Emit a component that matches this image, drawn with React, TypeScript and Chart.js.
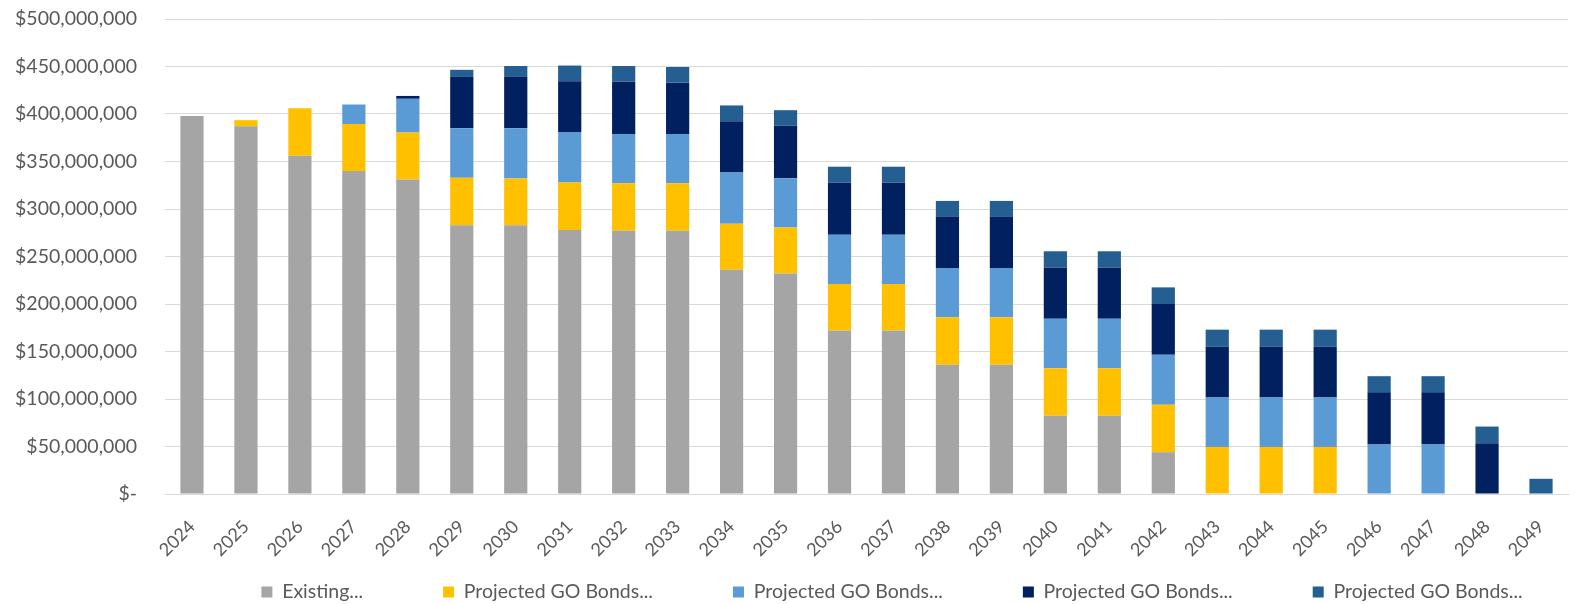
import { useEffect, useRef } from "react";
import { Chart, registerables } from "chart.js";

Chart.register(...registerables);

const years = [
  "2024", "2025", "2026", "2027", "2028", "2029", "2030", "2031", "2032", "2033",
  "2034", "2035", "2036", "2037", "2038", "2039", "2040", "2041", "2042", "2043",
  "2044", "2045", "2046", "2047", "2048", "2049",
];

const seriesLabels = [
  "Existing...",
  "Projected GO Bonds...",
  "Projected GO Bonds...",
  "Projected GO Bonds...",
  "Projected GO Bonds...",
];

const seriesColors = ["#A5A5A5", "#FFC000", "#5B9BD5", "#002060", "#255E91"];

const existing = [
  398000000, 387000000, 356000000, 340000000, 331000000, 283000000, 283000000, 278000000, 277000000, 277000000,
  236000000, 232000000, 172000000, 172000000, 136000000, 136000000, 82500000, 82500000, 44000000, 0,
  0, 0, 0, 0, 0, 0,
];

const goBonds1 = [
  0, 6500000, 50000000, 49500000, 49500000, 50000000, 49000000, 50000000, 50000000, 50000000,
  48500000, 48500000, 49000000, 49000000, 50000000, 50000000, 50000000, 50000000, 50000000, 49500000,
  49500000, 49500000, 0, 0, 0, 0,
];

const goBonds2 = [
  0, 0, 0, 20500000, 35500000, 52000000, 53000000, 52500000, 52000000, 52000000,
  54000000, 52000000, 52000000, 52000000, 52000000, 52000000, 52000000, 52000000, 52500000, 52000000,
  52000000, 52000000, 52000000, 52000000, 0, 0,
];

const goBonds3 = [
  0, 0, 0, 0, 3000000, 54000000, 54000000, 54000000, 55000000, 54000000,
  54000000, 55000000, 55000000, 55000000, 54000000, 54000000, 54000000, 54000000, 53500000, 53500000,
  53500000, 53500000, 55000000, 55000000, 53500000, 0,
];

const goBonds4 = [
  0, 0, 0, 0, 0, 7500000, 11500000, 16500000, 16500000, 16500000,
  16500000, 16500000, 16500000, 16500000, 16500000, 16500000, 17000000, 17000000, 17500000, 18000000,
  18000000, 18000000, 17000000, 17000000, 17500000, 16000000,
];

const seriesValues = [existing, goBonds1, goBonds2, goBonds3, goBonds4];

const FONT = "Lato, 'Open Sans', sans-serif";
const FONT_SIZE = 19.5;
const X_FONT_SIZE = 18;
const LEGEND_PAD = 80;
const TEXT = "#595959";
const GRID = "#D9D9D9";

// Places the legend row where it sits in the reference (wide item gaps,
// row centred a little right of the page centre).
const legendShift = {
  id: "legendShift",
  afterLayout(chart: any) {
    const lg = chart.legend;
    if (!lg) return;
    const dx = 108;
    lg.left += dx;
    lg.right += dx;
    lg.top = 592 - LEGEND_PAD - FONT_SIZE / 2;
    lg.bottom = chart.height;
  },
};

export default function App() {
  const ref = useRef<HTMLCanvasElement>(null);

  useEffect(() => {
    document.body.style.margin = "0";
    const canvas = ref.current;
    if (!canvas) return;
    const chart = new Chart(canvas, {
      type: "bar",
      data: {
        labels: years,
        datasets: seriesValues.map((vals, i) => ({
          label: seriesLabels[i],
          data: vals,
          backgroundColor: seriesColors[i],
          borderWidth: 0,
          barPercentage: 0.43,
          categoryPercentage: 1,
        })),
      },
      plugins: [legendShift],
      options: {
        animation: false,
        responsive: true,
        maintainAspectRatio: false,
        layout: { padding: { left: 0, right: 15, top: 19, bottom: 0 } },
        plugins: {
          tooltip: { enabled: false },
          legend: {
            position: "bottom",
            maxHeight: 40,
            labels: {
              boxWidth: 11,
              boxHeight: 11,
              padding: LEGEND_PAD,
              color: TEXT,
              font: { family: FONT, size: FONT_SIZE },
            },
          },
        },
        scales: {
          x: {
            stacked: true,
            grid: { display: false, drawTicks: false },
            border: { display: true, color: GRID, width: 1 },
            ticks: {
              color: TEXT,
              font: { family: FONT, size: X_FONT_SIZE },
              minRotation: 45,
              maxRotation: 45,
              padding: 22,
              autoSkip: false,
            },
            afterFit: (scale: any) => {
              scale.height = 70;
            },
          },
          y: {
            stacked: true,
            min: 0,
            max: 500000000,
            grid: {
              color: GRID,
              lineWidth: 1,
              drawTicks: true,
              tickLength: 28,
              tickColor: "rgba(0,0,0,0)",
            },
            border: { display: false },
            ticks: {
              stepSize: 50000000,
              color: TEXT,
              font: { family: FONT, size: FONT_SIZE },
              padding: 0,
              callback: (v: any) =>
                Number(v) === 0 ? "$-" : "$" + Number(v).toLocaleString("en-US"),
            },
            afterFit: (scale: any) => {
              scale.width = 165;
            },
          },
        },
      },
    });
    return () => chart.destroy();
  }, []);

  return (
    <div style={{ width: 1583, height: 604, position: "relative" }}>
      <canvas ref={ref} />
    </div>
  );
}
